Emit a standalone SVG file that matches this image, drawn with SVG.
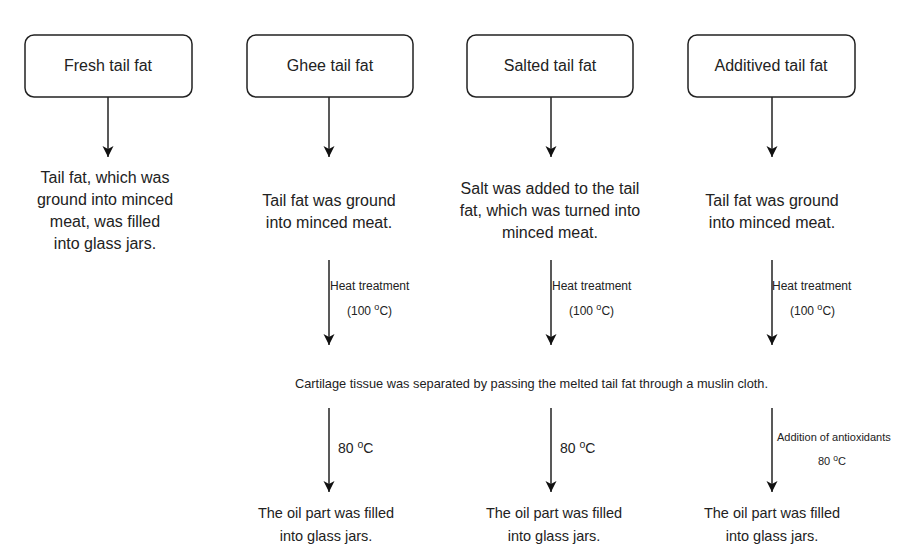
<svg xmlns="http://www.w3.org/2000/svg" width="897" height="549" viewBox="0 0 897 549">
<defs>
<style>
text{font-family:"Liberation Sans",Arial,sans-serif;fill:#222;}
.box{fill:#fff;stroke:#222;stroke-width:1.5;}
.lbl{font-size:16px;text-anchor:middle;}
.big{font-size:16px;text-anchor:middle;}
.sm{font-size:12px;}
.xs{font-size:11px;}
.mid{font-size:12.8px;}
.deg{font-size:14px;}
.oil{font-size:14.5px;text-anchor:middle;}
.ln{stroke:#222;stroke-width:1.5;fill:none;marker-end:url(#ah);}
</style>
<marker id="ah" markerUnits="userSpaceOnUse" markerWidth="12" markerHeight="12" refX="11" refY="5.5" orient="auto" viewBox="0 0 12 11">
<path d="M0,0 L11,5.5 L0,11 L3,5.5 Z" fill="#111"/>
</marker>
</defs>
<rect width="897" height="549" fill="#fff"/>
<g id="connectors">
<line class="ln" x1="108" y1="97" x2="108" y2="157"/>
<line class="ln" x1="329" y1="97" x2="329" y2="157"/>
<line class="ln" x1="551" y1="97" x2="551" y2="157"/>
<line class="ln" x1="772" y1="97" x2="772" y2="157"/>
<line class="ln" x1="329" y1="260" x2="329" y2="345"/>
<line class="ln" x1="551" y1="260" x2="551" y2="345"/>
<line class="ln" x1="772" y1="260" x2="772" y2="345"/>
<line class="ln" x1="329" y1="408" x2="329" y2="492"/>
<line class="ln" x1="551" y1="408" x2="551" y2="492"/>
<line class="ln" x1="772" y1="408" x2="772" y2="492"/>
</g>
<g id="node-fresh">
<rect class="box" x="25" y="35" width="167" height="62" rx="9"/>
<text class="lbl" x="108" y="71">Fresh tail fat</text>
</g>
<g id="node-ghee">
<rect class="box" x="247" y="35" width="166" height="62" rx="9"/>
<text class="lbl" x="330" y="71">Ghee tail fat</text>
</g>
<g id="node-salted">
<rect class="box" x="467" y="35" width="166" height="62" rx="9"/>
<text class="lbl" x="550" y="71">Salted tail fat</text>
</g>
<g id="node-additived">
<rect class="box" x="688" y="35" width="167" height="62" rx="9"/>
<text class="lbl" x="771" y="71">Additived tail fat</text>
</g>
<g id="step-fresh">
<text class="big" x="105" y="183">Tail fat, which was</text>
<text class="big" x="105" y="205">ground into minced</text>
<text class="big" x="105" y="227">meat, was filled</text>
<text class="big" x="105" y="249">into glass jars.</text>
</g>
<g id="step-ghee">
<text class="big" x="329" y="206">Tail fat was ground</text>
<text class="big" x="329" y="228">into minced meat.</text>
</g>
<g id="step-salted">
<text class="big" x="550" y="194">Salt was added to the tail</text>
<text class="big" x="550" y="216">fat, which was turned into</text>
<text class="big" x="550" y="238">minced meat.</text>
</g>
<g id="step-additived">
<text class="big" x="772" y="206">Tail fat was ground</text>
<text class="big" x="772" y="228">into minced meat.</text>
</g>
<g id="labels-heat">
<text class="sm" x="330" y="290">Heat treatment</text>
<text class="sm" x="347" y="315">(100 <tspan dy="-5" font-size="9">o</tspan><tspan dy="5">C)</tspan></text>
<text class="sm" x="552" y="290">Heat treatment</text>
<text class="sm" x="569" y="315">(100 <tspan dy="-5" font-size="9">o</tspan><tspan dy="5">C)</tspan></text>
<text class="sm" x="772" y="290">Heat treatment</text>
<text class="sm" x="790" y="315">(100 <tspan dy="-5" font-size="9">o</tspan><tspan dy="5">C)</tspan></text>
</g>
<g id="node-cartilage">
<text class="mid" x="295" y="388">Cartilage tissue was separated by passing the melted tail fat through a muslin cloth.</text>
</g>
<g id="labels-80">
<text class="deg" x="338" y="453">80 <tspan dy="-5" font-size="10.5">o</tspan><tspan dy="5">C</tspan></text>
<text class="deg" x="560" y="453">80 <tspan dy="-5" font-size="10.5">o</tspan><tspan dy="5">C</tspan></text>
<text class="xs" x="777" y="441">Addition of antioxidants</text>
<text class="xs" x="818" y="465">80 <tspan dy="-4" font-size="8.5">o</tspan><tspan dy="4">C</tspan></text>
</g>
<g id="node-oil-1">
<text class="oil" x="326" y="518">The oil part was filled</text>
<text class="oil" x="326" y="541">into glass jars.</text>
</g>
<g id="node-oil-2">
<text class="oil" x="554" y="518">The oil part was filled</text>
<text class="oil" x="554" y="541">into glass jars.</text>
</g>
<g id="node-oil-3">
<text class="oil" x="772" y="518">The oil part was filled</text>
<text class="oil" x="772" y="541">into glass jars.</text>
</g>
</svg>
